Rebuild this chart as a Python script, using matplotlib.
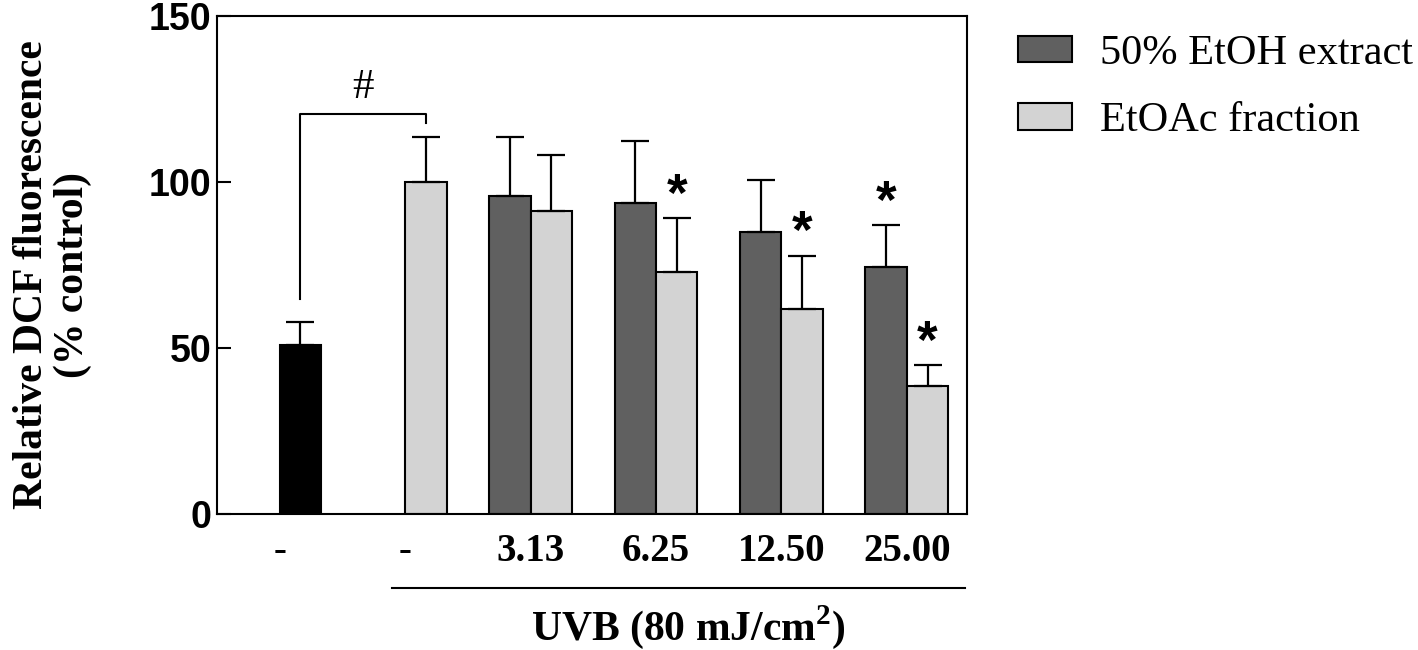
import numpy as np
import matplotlib
matplotlib.use("Agg")
import matplotlib.pyplot as plt
from matplotlib.patches import Patch

# values
group_labels = ["-", "-", "3.13", "6.25", "12.50", "25.00"]
control_mean = [50.9]
control_err = [7.0]
etoh_mean = [95.7, 93.7, 84.8, 74.5]          # 50% EtOH extract, groups 3..6
etoh_err = [17.7, 18.6, 15.9, 12.4]
etoh_sig = [False, False, False, True]
etoac_mean = [100.0, 91.3, 72.9, 61.9, 38.6]  # EtOAc fraction (first = UVB only)
etoac_err = [13.4, 16.7, 16.2, 15.8, 6.3]
etoac_sig = [False, False, True, True, True]

SERIF = "Liberation Serif"
SANS = "Liberation Sans"
DARK = "#606060"
LIGHT = "#d3d3d3"

plt.rcParams["mathtext.fontset"] = "custom"
plt.rcParams["mathtext.rm"] = SERIF + ":bold"
plt.rcParams["mathtext.bf"] = SERIF + ":bold"

fig = plt.figure(figsize=(14.18, 6.5), dpi=100)
ax = fig.add_axes([0.153, 0.2085, 0.529, 0.7675])

w = 0.33
x = np.arange(len(group_labels))
x_ctrl = x[:1] + w / 2
x_light = x[1:] + w / 2
x_dark = x[2:] - w / 2

err_kw = dict(ecolor="black", elinewidth=1.6, capsize=10, capthick=1.6)
ax.bar(x_ctrl, control_mean, w, color="black", edgecolor="black", linewidth=1.5,
       yerr=[np.zeros(1), control_err], error_kw=err_kw, zorder=2)
ax.bar(x_dark, etoh_mean, w, color=DARK, edgecolor="black", linewidth=1.5,
       yerr=[np.zeros(len(etoh_mean)), etoh_err], error_kw=err_kw, zorder=2)
ax.bar(x_light, etoac_mean, w, color=LIGHT, edgecolor="black", linewidth=1.5,
       yerr=[np.zeros(len(etoac_mean)), etoac_err], error_kw=err_kw, zorder=2)

# significance stars
for xs, ms, es, sig in [(x_dark, etoh_mean, etoh_err, etoh_sig),
                        (x_light, etoac_mean, etoac_err, etoac_sig)]:
    for xi, m, e, s in zip(xs, ms, es, sig):
        if s:
            ax.text(xi, m + e - 1.0, "*", ha="center", va="bottom",
                    fontsize=38, fontweight="bold", family=SANS)

# bracket control vs UVB
top_ctrl = control_mean[0] + control_err[0] + 7
ax.plot([x_ctrl[0], x_ctrl[0], x_light[0], x_light[0]],
        [top_ctrl, 120.3, 120.3, 117.8], color="black", lw=1.5, clip_on=False)
ax.text((x_ctrl[0] + x_light[0]) / 2, 122.5, "#", ha="center", va="bottom",
        fontsize=31, family=SERIF)

ax.set_xlim(-0.5, 5.48)
ax.set_ylim(0, 150)
ax.set_yticks([0, 50, 100, 150])
ax.set_xticks(x)
ax.set_xticklabels(group_labels, family=SERIF, fontweight="bold", fontsize=28)
ax.tick_params(axis="x", length=0, pad=13)
ax.tick_params(axis="y", direction="in", length=10, width=1.5, pad=4,
               labelsize=27)
for lab in ax.get_yticklabels():
    lab.set_family(SANS)
    lab.set_fontweight("bold")
for sp in ax.spines.values():
    sp.set_linewidth(1.5)

# UVB underline and label
ax.plot([0.894, 5.46], [-22.1, -22.1], color="black", lw=1.5, clip_on=False)
ax.text(3.26, -34.0, r"UVB (80 mJ/cm$^{2}$)", ha="center", va="center",
        fontsize=30, fontweight="bold", family=SERIF)

fig.text(0.037, 0.577, "Relative DCF fluorescence\n(% control)", rotation=90,
         ha="center", va="center", multialignment="center", linespacing=1.1,
         fontsize=30, fontweight="bold", family=SERIF)

handles = [Patch(facecolor=DARK, edgecolor="black", linewidth=1.5),
           Patch(facecolor=LIGHT, edgecolor="black", linewidth=1.5)]
fig.legend(handles, ["50% EtOH extract", "EtOAc fraction"], loc="upper left",
           bbox_to_anchor=(0.718, 0.947), frameon=False, borderpad=0,
           borderaxespad=0, handlelength=1.27, handleheight=0.59,
           handletextpad=0.66, labelspacing=0.68,
           prop={"family": SERIF, "size": 30.5})

fig.savefig("out.png", dpi=100)
